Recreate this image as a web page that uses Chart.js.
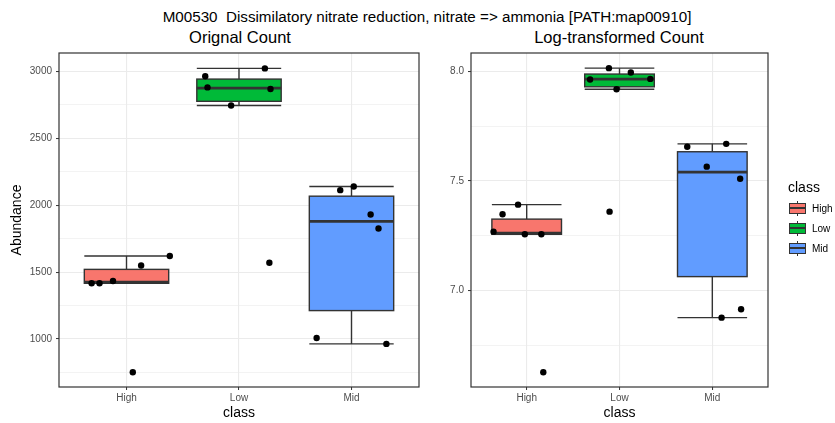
<!DOCTYPE html>
<html>
<head>
<meta charset="utf-8">
<script src="https://cdn.jsdelivr.net/npm/chart.js@4.4.1/dist/chart.umd.min.js"></script>
<style>
  html, body { margin:0; padding:0; background:#fff; }
  body { width:835px; height:423px; position:relative; overflow:hidden; font-family:"Liberation Sans", Arial, sans-serif; color:#000; }
  canvas { position:absolute; top:0; }
  #cLeft { left:0; }
  #cRight { left:430px; }
  .txt { position:absolute; white-space:nowrap; transform:translate(-50%,-50%); font-weight:normal; }
  #mainTitle { left:427px; top:16px; font-size:15.2px; }
  #subLeft { left:240px; top:37px; font-size:16.5px; }
  #subRight { left:619px; top:37px; font-size:16.5px; }
  #legTitle { position:absolute; left:788px; top:179px; font-size:14px; }
  .key { position:absolute; left:789px; width:17px; height:17px; }
  .key .w { position:absolute; left:8px; width:1.2px; top:1px; height:15px; background:#333; }
  .key .b { position:absolute; left:0; top:3px; width:15px; height:9px; border:1px solid #333; }
  .key .m { position:absolute; left:0; top:7.5px; width:17px; height:1.6px; background:#333; }
  .klab { position:absolute; left:812px; font-size:10px; color:#000; transform:translateY(-50%); }
</style>
</head>
<body>
<div id="mainTitle" class="txt">M00530&nbsp; Dissimilatory nitrate reduction, nitrate =&gt; ammonia [PATH:map00910]</div>
<div id="subLeft" class="txt">Orignal Count</div>
<div id="subRight" class="txt">Log-transformed Count</div>
<canvas id="cLeft" width="430" height="423"></canvas>
<canvas id="cRight" width="405" height="423"></canvas>
<div id="legTitle">class</div>
<div id="legend"></div>
<script>
// ---------- data ----------
const categories = ['High', 'Low', 'Mid'];
const classColors = ['#F8766D', '#00BA38', '#619CFF'];

// Original count panel
const rawPoints = [
  [1416, 1416, 1433, 1549, 1620, 751],
  [2963, 2880, 3022, 2868, 2745, 1570],
  [2112, 2139, 1930, 1825, 1007, 963]
];
const rawJitter = [
  [-0.31, -0.24, -0.12, 0.13, 0.385, 0.056],
  [-0.30, -0.28, 0.23, 0.28, -0.07, 0.27],
  [-0.10, 0.02, 0.17, 0.24, -0.31, 0.31]
];
const rawWhiskerLow  = [1416, 2745, 963];
const rawQ1          = [1416, 2776, 1212];
const rawMedian      = [1424, 2874, 1878];
const rawQ3          = [1520, 2942, 2067];
const rawWhiskerHigh = [1620, 3022, 2139];
const rawTicks       = [1000, 1500, 2000, 2500, 3000];
const rawMinorTicks  = [750, 1250, 1750, 2250, 2750];

// Log-transformed count panel
const logPoints = [
  [7.269, 7.348, 7.392, 7.257, 7.257, 6.628],
  [7.962, 8.014, 7.918, 7.994, 7.965, 7.360],
  [7.656, 7.669, 7.565, 7.510, 6.915, 6.877]
];
const logJitter = [
  [-0.357, -0.26, -0.093, -0.02, 0.158, 0.179],
  [-0.317, -0.114, -0.032, 0.122, 0.332, -0.107],
  [-0.27, 0.15, -0.06, 0.30, 0.31, 0.10]
];
const logWhiskerLow  = [7.257, 7.918, 6.877];
const logQ1          = [7.257, 7.929, 7.064];
const logMedian      = [7.262, 7.964, 7.540];
const logQ3          = [7.326, 7.987, 7.633];
const logWhiskerHigh = [7.392, 8.014, 7.669];
const logTicks       = [7.0, 7.5, 8.0];
const logMinorTicks  = [6.75, 7.25, 7.75];

// ---------- legend (HTML) ----------
const legend = document.getElementById('legend');
categories.forEach((c, i) => {
  const cy = 208 + i * 20;
  const k = document.createElement('div');
  k.className = 'key';
  k.style.top = (cy - 8.5) + 'px';
  k.innerHTML = '<div class="w"></div><div class="b" style="background:' + classColors[i] + '"></div><div class="m"></div>';
  legend.appendChild(k);
  const l = document.createElement('div');
  l.className = 'klab';
  l.style.top = cy + 'px';
  l.textContent = c;
  legend.appendChild(l);
});

// ---------- box plot plugin ----------
const boxPlugin = {
  id: 'boxes',
  beforeDatasetsDraw(chart, args, o) {
    const { ctx, chartArea: a, scales: { x, y } } = chart;
    ctx.save();
    ctx.beginPath();
    ctx.rect(a.left, a.top, a.right - a.left, a.bottom - a.top);
    ctx.clip();
    categories.forEach((c, i) => {
      const xc = x.getPixelForValue(i + 1);
      const half = x.getPixelForValue(i + 1 + o.width / 2) - xc;
      const yLo = y.getPixelForValue(o.lo[i]);
      const yQ1 = y.getPixelForValue(o.q1[i]);
      const yMed = y.getPixelForValue(o.med[i]);
      const yQ3 = y.getPixelForValue(o.q3[i]);
      const yHi = y.getPixelForValue(o.hi[i]);
      ctx.strokeStyle = '#333333';
      ctx.lineWidth = 1.4;
      // error bar caps
      ctx.beginPath();
      ctx.moveTo(xc - half, yHi); ctx.lineTo(xc + half, yHi);
      ctx.moveTo(xc - half, yLo); ctx.lineTo(xc + half, yLo);
      ctx.stroke();
      // whiskers
      ctx.beginPath();
      ctx.moveTo(xc, yQ3); ctx.lineTo(xc, yHi);
      ctx.moveTo(xc, yQ1); ctx.lineTo(xc, yLo);
      ctx.stroke();
      // box
      ctx.fillStyle = classColors[i];
      ctx.fillRect(xc - half, yQ3, 2 * half, yQ1 - yQ3);
      ctx.strokeRect(xc - half, yQ3, 2 * half, yQ1 - yQ3);
      // median
      ctx.lineWidth = 2.8;
      ctx.beginPath();
      ctx.moveTo(xc - half, yMed); ctx.lineTo(xc + half, yMed);
      ctx.stroke();
    });
    ctx.restore();
  },
  afterDraw(chart) {
    const { ctx, chartArea: a } = chart;
    ctx.save();
    ctx.strokeStyle = '#333333';
    ctx.lineWidth = 1.2;
    ctx.strokeRect(a.left, a.top, a.right - a.left, a.bottom - a.top);
    ctx.restore();
  }
};

function makeChart(canvasId, pts, jit, stats, majors, minors, yMin, yMax, yWidth, padRight, yTitle, fmt) {
  const datasets = categories.map((c, i) => ({
    label: c,
    data: pts[i].map((v, j) => ({ x: i + 1 + jit[i][j], y: v })),
    backgroundColor: '#000',
    borderWidth: 0,
    pointRadius: 3.2,
    pointHoverRadius: 3.2
  }));
  const allY = majors.concat(minors).sort((a, b) => a - b);
  return new Chart(document.getElementById(canvasId), {
    type: 'scatter',
    data: { datasets },
    options: {
      responsive: false,
      animation: false,
      devicePixelRatio: 1,
      layout: { padding: { top: 53, right: padRight, bottom: 0, left: 0 } },
      plugins: {
        legend: { display: false },
        tooltip: { enabled: false },
        title: { display: false },
        boxes: { width: 0.75, lo: stats[0], q1: stats[1], med: stats[2], q3: stats[3], hi: stats[4] }
      },
      scales: {
        x: {
          type: 'linear',
          min: 0.4, max: 3.6,
          afterBuildTicks: s => { s.ticks = categories.map((c, i) => ({ value: i + 1 })); },
          afterFit: s => { s.height = 36; },
          ticks: {
            autoSkip: false, maxRotation: 0,
            padding: 2,
            color: '#4d4d4d',
            font: { family: '"Liberation Sans", Arial, sans-serif', size: 10 },
            callback: v => categories[Math.round(v) - 1]
          },
          grid: { color: '#ebebeb', lineWidth: 1.1, tickLength: 3, tickColor: '#333333', tickWidth: 1 },
          border: { display: false },
          title: {
            display: true, text: 'class', color: '#000',
            font: { family: '"Liberation Sans", Arial, sans-serif', size: 14 },
            padding: { top: 0, bottom: 1.5 }
          }
        },
        y: {
          type: 'linear',
          min: yMin, max: yMax,
          afterBuildTicks: s => { s.ticks = allY.map(v => ({ value: v })); },
          afterFit: s => { s.width = yWidth; },
          ticks: {
            autoSkip: false,
            padding: 4,
            color: '#4d4d4d',
            font: { family: '"Liberation Sans", Arial, sans-serif', size: 10 },
            callback: v => majors.includes(v) ? fmt(v) : ''
          },
          grid: {
            color: '#ebebeb',
            lineWidth: c => (c.tick && majors.includes(c.tick.value)) ? 1.1 : 0.6,
            tickLength: 3,
            tickColor: c => (c.tick && majors.includes(c.tick.value)) ? '#333333' : 'rgba(0,0,0,0)',
            tickWidth: 1
          },
          border: { display: false },
          title: {
            display: yTitle !== '', text: yTitle, color: '#000',
            font: { family: '"Liberation Sans", Arial, sans-serif', size: 14 },
            padding: { top: 8.6, bottom: 0 }
          }
        }
      }
    },
    plugins: [boxPlugin]
  });
}

makeChart('cLeft', rawPoints, rawJitter,
  [rawWhiskerLow, rawQ1, rawMedian, rawQ3, rawWhiskerHigh],
  rawTicks, rawMinorTicks, 641, 3137, 59, 11, 'Abundance', v => String(v));

makeChart('cRight', logPoints, logJitter,
  [logWhiskerLow, logQ1, logMedian, logQ3, logWhiskerHigh],
  logTicks, logMinorTicks, 6.561, 8.083, 41, 67, '', v => v.toFixed(1));
</script>
</body>
</html>
